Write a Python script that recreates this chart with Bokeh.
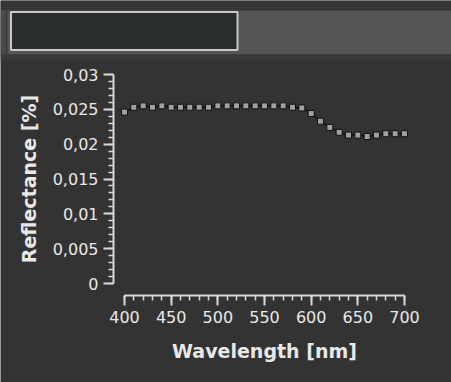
from bokeh.plotting import figure
from bokeh.models import FixedTicker, ColumnDataSource, BoxAnnotation
from bokeh.embed import file_html
from bokeh.resources import INLINE

# ---- data ----
wavelength = [400, 410, 420, 430, 440, 450, 460, 470, 480, 490, 500, 510, 520, 530, 540, 550,
              560, 570, 580, 590, 600, 610, 620, 630, 640, 650, 660, 670, 680, 690, 700]
reflectance = [0.0246, 0.0253, 0.0255, 0.0253, 0.0255, 0.0253, 0.0253, 0.0253, 0.0253, 0.0253,
               0.0255, 0.0255, 0.0255, 0.0255, 0.0255, 0.0255, 0.0255, 0.0255, 0.0253, 0.0252,
               0.0244, 0.0233, 0.0224, 0.0217, 0.0213, 0.0213, 0.0211, 0.0213, 0.0215, 0.0215, 0.0215]
x_ticks = [400, 450, 500, 550, 600, 650, 700]
y_ticks = [0, 0.005, 0.01, 0.015, 0.02, 0.025, 0.03]
y_tick_labels = ["0", "0,005", "0,01", "0,015", "0,02", "0,025", "0,03"]
x_label = "Wavelength [nm]"
y_label = "Reflectance [%]"

BG = "#333333"
TXT = "#e8e8e8"
AX = "#d8d8d8"

W, H = 451, 382
# pixel layout of the axes on the canvas
X0_PX, X1_PX = 124.0, 404.0      # 400 nm and 700 nm
Y0_PX, Y1_PX = 283.0, 74.0       # 0 and 0.03
YAXIS_PX, XAXIS_PX = 113.0, 295.0
sx = (X1_PX - X0_PX) / (x_ticks[-1] - x_ticks[0])
sy = (Y0_PX - Y1_PX) / (y_ticks[-1] - y_ticks[0])
x_start = x_ticks[0] - X0_PX / sx
x_end = x_ticks[0] + (W - X0_PX) / sx
y_start = y_ticks[0] - (H - Y0_PX) / sy
y_end = y_ticks[0] + Y0_PX / sy

p = figure(width=W, height=H, output_backend="svg", toolbar_location=None,
           x_range=(x_start, x_end), y_range=(y_start, y_end), min_border=0,
           min_border_left=0, min_border_right=0, min_border_top=0, min_border_bottom=0)
p.background_fill_color = BG
p.border_fill_color = BG
p.outline_line_color = None
p.grid.visible = False

# ---- top toolbar strip (decoration; screen units measured from frame bottom) ----
def box(l, r, t, b, fc, lc=None):
    p.add_layout(BoxAnnotation(left=l, right=r, top=H - t, bottom=H - b,
                               left_units="screen", right_units="screen",
                               top_units="screen", bottom_units="screen",
                               fill_color=fc, fill_alpha=1.0,
                               line_color=lc, line_alpha=1.0 if lc else 0, line_width=2,
                               editable=False, level="underlay"))

box(0, W, 0, 10, "#363636")
box(0, W, 10, 54, "#555555")
box(0, 5, 10, 54, "#4a4a4a")
box(5, 7, 10, 54, "#3c3c3c")
box(0, W, 54, 60, "#3a3a3a")
box(10.5, 237, 11.5, 49.5, "#292d2d", "#c8c8c8")

src = ColumnDataSource(dict(x=wavelength, y=reflectance))
p.line("x", "y", source=src, line_color="#111111", line_width=1.5)
p.scatter("x", "y", source=src, marker="square", size=6, fill_color="#a0a0a0",
          line_color="#111111", line_width=1)

xa = p.xaxis[0]
ya = p.yaxis[0]
xa.fixed_location = y_ticks[0] - (XAXIS_PX - Y0_PX) / sy
ya.fixed_location = x_ticks[0] - (X0_PX - YAXIS_PX) / sx
xa.ticker = FixedTicker(ticks=x_ticks, minor_ticks=list(range(400, 701, 10)))
ya.ticker = FixedTicker(ticks=y_ticks, minor_ticks=[i * 0.001 for i in range(31)])
ya.major_label_overrides = {t: l for t, l in zip(y_ticks, y_tick_labels)}
xa.bounds = (x_ticks[0], x_ticks[-1])
ya.bounds = (y_ticks[0], y_ticks[-1])
xa.axis_label = x_label
ya.axis_label = y_label

for ax in (xa, ya):
    ax.axis_line_color = AX
    ax.axis_line_width = 2
    ax.major_tick_line_color = AX
    ax.minor_tick_line_color = AX
    ax.major_tick_line_width = 2
    ax.minor_tick_line_width = 1.5
    ax.major_tick_out = 10
    ax.major_tick_in = 0
    ax.minor_tick_out = 5
    ax.minor_tick_in = 0
    ax.major_label_text_color = TXT
    ax.major_label_text_font = "DejaVu Sans"
    ax.major_label_text_font_size = "16px"
    ax.major_label_standoff = 5
    ax.axis_label_text_color = TXT
    ax.axis_label_text_font = "DejaVu Sans"
    ax.axis_label_text_font_style = "bold"
    ax.axis_label_text_font_size = "19px"
xa.axis_label_standoff = 14
ya.axis_label_standoff = 10

open("out.html", "w").write(file_html(p, INLINE))
